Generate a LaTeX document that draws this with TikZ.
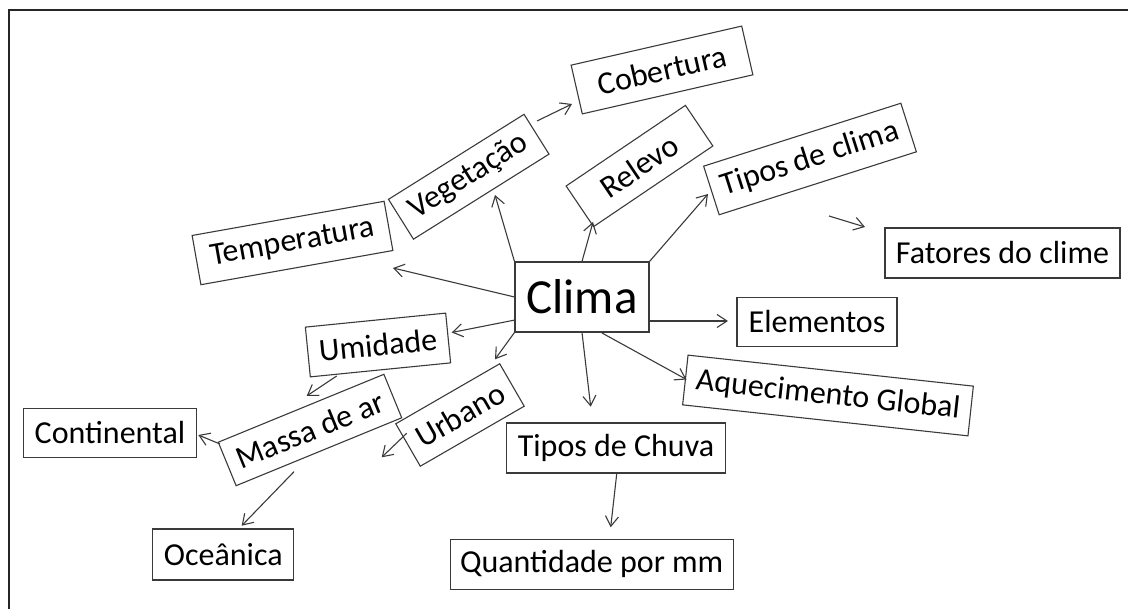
\documentclass[tikz,border=0pt]{standalone}
\usepackage{fontspec}
\setmainfont{Carlito}
\usetikzlibrary{arrows.meta}
\definecolor{linegray}{HTML}{3A3A3A}
\tikzset{
  box/.style={draw=linegray, line width=1.1pt, inner sep=0pt, align=center,
    font=\fontsize{32}{38}\selectfont, text=black},
  conn/.style={draw=linegray, line width=1.1pt, -{Straight Barb[length=10pt,width=13pt]}},
}
\begin{document}
\begin{tikzpicture}[x=1pt,y=-1pt]
\useasboundingbox (0,0) rectangle (1128,609);
\draw[line width=1.8pt, black!85] (1128,10) -- (9,10) -- (9,609);

% nodes
\node[box, minimum width=134pt, minimum height=70pt, font=\fontsize{49}{58}\selectfont] (clima) at (582,297) {Clima};
\node[box, minimum width=195pt, minimum height=50pt, rotate=10.1] (temp) at (292.5,243) {Temperatura};
\node[box, minimum width=160pt, minimum height=47pt, rotate=32.1] (veg) at (468.75,176.75) {Vegetação};
\node[box, minimum width=175pt, minimum height=50pt, rotate=12.9] (cob) at (662,70) {Cobertura};
\node[box, minimum width=144pt, minimum height=49pt, rotate=34.05] (rel) at (639.5,166) {Relevo};
\node[box, minimum width=207pt, minimum height=51pt, rotate=17.7] (tclima) at (810,159) {Tipos de clima};
\node[box, minimum width=235pt, minimum height=50pt] (fat) at (1002.5,253) {Fatores do clime};
\node[box, minimum width=160pt, minimum height=49pt] (elem) at (817,322) {Elementos};
\node[box, minimum width=287pt, minimum height=50pt, rotate=-6.2] (aq) at (828,395.5) {Aquecimento Global};
\node[box, minimum width=219pt, minimum height=50pt] (tchuva) at (616,448) {Tipos de Chuva};
\node[box, minimum width=283pt, minimum height=50pt] (quant) at (591.7,564.3) {Quantidade por mm};
\node[box, minimum width=141pt, minimum height=50pt, rotate=5.7] (umid) at (378,345) {Umidade};
\node[box, minimum width=120pt, minimum height=49pt, rotate=30] (urb) at (460,415) {Urbano};
\node[box, minimum width=179pt, minimum height=47pt, rotate=22.3] (massa) at (310,430) {Massa de ar};
\node[box, minimum width=173pt, minimum height=49pt] (cont) at (110,433) {Continental};
\node[box, minimum width=141pt, minimum height=51pt] (oce) at (223.3,554.5) {Oceânica};

% arrow tips / free ends
\coordinate (tTemp) at (393,268);
\coordinate (tVeg) at (495,195);
\coordinate (tRel) at (593,222);
\coordinate (tTcl) at (708,194);
\coordinate (sCob) at (537,121);
\coordinate (tCob) at (572,104);
\coordinate (tElem) at (728,321);
\coordinate (sAq) at (602,333);
\coordinate (tAq) at (686.5,379.5);
\coordinate (tTch) at (590.7,406.7);
\coordinate (sQu) at (616.7,474);
\coordinate (tQu) at (610.7,527.3);
\coordinate (sUm) at (515,320);
\coordinate (tUm) at (451.7,332.5);
\coordinate (tUrb) at (495,359.3);
\coordinate (sMa) at (336.7,376);
\coordinate (tMa) at (306.7,396);
\coordinate (sFree) at (406.7,433.3);
\coordinate (tFree) at (381.7,457.3);
\coordinate (sCo) at (220,444);
\coordinate (tCo) at (198.3,435);
\coordinate (sOc) at (294,471.7);
\coordinate (tOc) at (241.7,525.7);
\coordinate (sFat) at (829,216);
\coordinate (tFat) at (865,227);

% connectors
\draw[conn] (clima.west) -- (tTemp);
\draw[conn] (clima.north west) -- (tVeg);
\draw[conn] (clima.north) -- (tRel);
\draw[conn] (clima.north east) -- (tTcl);
\draw[conn] (sCob) -- (tCob);
\draw[conn] (clima.east |- tElem) -- (tElem);
\draw[conn] (sAq) -- (tAq);
\draw[conn] (clima.south) -- (tTch);
\draw[conn] (sQu) -- (tQu);
\draw[conn] (sUm) -- (tUm);
\draw[conn] (clima.south west) -- (tUrb);
\draw[conn] (sMa) -- (tMa);
\draw[conn] (sFree) -- (tFree);
\draw[conn] (sCo) -- (tCo);
\draw[conn] (sOc) -- (tOc);
\draw[conn] (sFat) -- (tFat);
\end{tikzpicture}
\end{document}
